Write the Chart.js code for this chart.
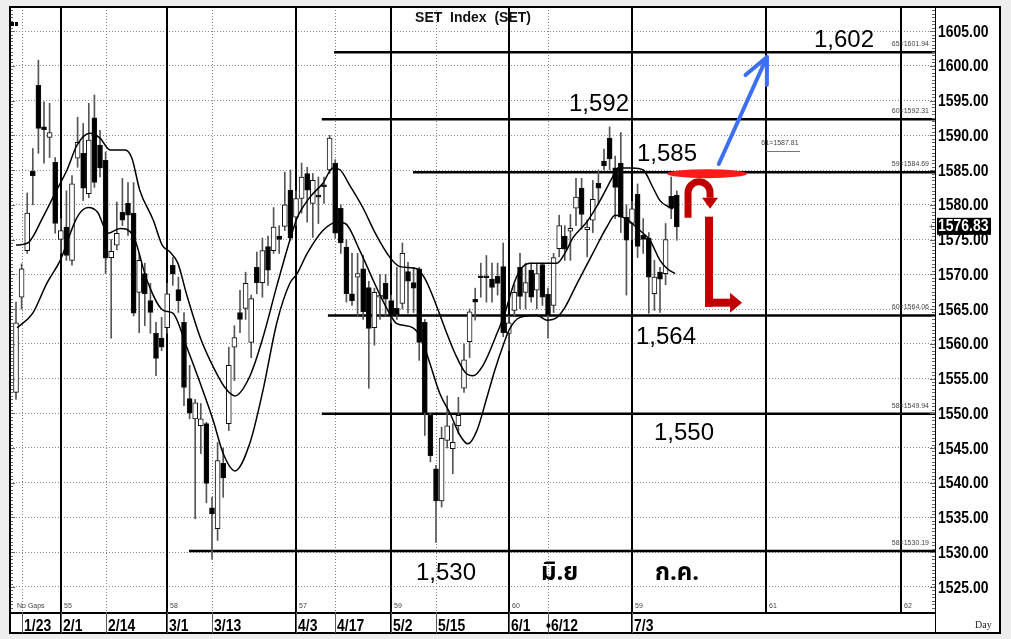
<!DOCTYPE html>
<html>
<head>
<meta charset="utf-8">
<script src="https://cdn.jsdelivr.net/npm/chart.js@4.4.1/dist/chart.umd.min.js"></script>
<style>
  html, body { margin: 0; padding: 0; background: #ffffff; }
  #wrap { width: 1011px; height: 639px; position: relative; }
  canvas { display: block; }
</style>
</head>
<body>
<div id="wrap"><canvas id="c" width="1011" height="639"></canvas></div>
<script>
// ---------------- DATA ----------------
// One candle per trading day, index 0 = 20 Jan.
const openV = [1553,1566.7,1573.4,1584.8,1597.2,1591.2,1589.7,1586.1,1575,1576.8,
1572,1586.7,1587.4,1581.6,1592.5,1588.6,1586.4,1572.4,1574.2,1578.9,
1580.2,1578.8,1567.4,1570.1,1566.2,1561.5,1560.8,1562.3,1571.3,1567.8,
1563.1,1552.1,1549.2,1548.2,1548.5,1536.4,1533.4,1542.8,1548.5,1559.5,
1564.5,1565.1,1560.2,1571,1568.8,1574,1573.4,1575.5,1576.9,1582.1,
1578.2,1580.9,1584.5,1580.2,1581.3,1582.8,1585,1586,1579.5,1573.9,
1567.2,1569.6,1570.8,1568.1,1562.3,1566.7,1568.7,1566.2,1565.1,1565.8,
1570.4,1568.8,1570.8,1563.1,1549.7,1542,1537.4,1546.1,1544.9,1548.2,
1553.6,1560.3,1566.4,1569.7,1569.7,1569.3,1569.7,1571.1,1561.5,1564.8,
1571,1567.4,1570.6,1567.7,1571.4,1567.1,1565.5,1573.7,1575.5,1576.2,
1579.5,1582.4,1576.4,1577.8,1583.1,1586.3,1589.6,1585.3,1586,1578.2,
1577.3,1581.5,1575.6,1575.2,1567.2,1570.3,1570.1,1581.2,1581.4];
const highV = [1566,1571.5,1581.7,1588.1,1600.8,1594.8,1594.6,1586.8,1578,1582,
1584.2,1592.6,1591.7,1594.6,1595.8,1590.7,1587.6,1575,1580.4,1583.8,
1583.2,1583.2,1573,1571.6,1568.7,1563.1,1563.8,1568.7,1572.4,1569.6,
1564.5,1556.9,1552,1551.4,1548.7,1537.9,1545.8,1545,1559.5,1562.6,
1567.7,1570.3,1567,1573.2,1575.2,1575.5,1579.6,1577,1584.7,1585,
1582,1586,1585.4,1584.5,1584,1584,1590,1586.5,1580,1575,
1573,1573,1572.7,1569,1568,1570,1570,1567,1571,1574.5,
1571.7,1571,1571,1563.5,1550,1542.5,1548,1552.5,1548.5,1552.3,
1560,1565,1568,1571.6,1572.7,1571.6,1571.6,1574.5,1564,1568.5,
1573,1571.6,1571.6,1571.6,1571.6,1568,1573,1578.5,1577,1578.6,
1583.8,1583.8,1577.8,1583.5,1585,1588,1591.2,1587,1590.4,1580,
1580.5,1583,1578,1576,1572,1571,1577.3,1584,1582];
const lowV = [1552,1565,1573,1580,1587.4,1586,1586.8,1575.9,1573,1572,
1571.3,1585.4,1580.6,1581,1582.5,1584,1570.1,1560.8,1573.5,1577,
1575.6,1564,1561.6,1562.6,1561.5,1555.4,1559,1561.5,1568.4,1564.5,
1551.1,1549.2,1534.8,1544.2,1537.1,1529,1531.7,1537.9,1547.5,1554.7,
1561.6,1563.5,1558,1567.2,1566.7,1568.4,1573,1573,1576.3,1574.9,
1577,1578.8,1577.5,1575.3,1577.3,1580.2,1584.5,1575.2,1573,1566,
1565.5,1564,1563.5,1553.6,1559.8,1563.5,1564,1563,1563.5,1565,
1564.4,1564.5,1557.6,1546.8,1543,1531.4,1536.5,1545,1541.3,1547,
1553,1558,1563.4,1566.7,1566,1566,1567,1561,1559,1564,
1565,1565,1566,1565,1565.5,1560.8,1564.5,1572.5,1572,1572,
1577,1576.5,1572.5,1576,1580,1585,1585,1578,1576,1567,
1575,1572.4,1573,1564.4,1564.8,1564.5,1568.5,1578,1574.9];
const closeV = [1563,1570.8,1578.8,1584.2,1591,1590.8,1590.4,1577.3,1576.3,1572.7,
1583,1589,1582.4,1589.3,1583.2,1585.3,1572.3,1573.3,1575.9,1577.8,
1578.5,1564.4,1572,1567.2,1564.5,1557.9,1559.5,1567.2,1570,1566.2,
1553.7,1550,1551.5,1549.2,1539.9,1535.5,1543.2,1540.7,1556.9,1560.9,
1563.5,1568.7,1566.5,1568.8,1573.4,1570.6,1576.8,1575,1580,1575.2,
1580.9,1584,1582.1,1583.5,1581.1,1582.6,1589.6,1575.9,1574.5,1567.2,
1566.2,1570.1,1564.6,1562.2,1567.4,1566.9,1566.4,1564.1,1564.2,1573,
1569,1568,1560.2,1550.1,1543.9,1537.4,1546.4,1548.2,1545.8,1549.7,
1557.7,1564.6,1566,1569.5,1569.5,1568.1,1568.7,1561.6,1563,1567.4,
1566.8,1568.8,1566.7,1570.1,1566.7,1564.1,1572.4,1577,1573.6,1576.6,
1581.1,1578.6,1576.8,1580.8,1582.4,1585.6,1586.6,1582.5,1578.2,1574.9,
1579.4,1574,1575,1569.6,1569.6,1569.3,1575,1579.5,1576.83];

// Two averaging curves, read as (candle index, value) points
const upperIdx = [0,2.1,4.8,7,9.1,10.9,13.2,15,16.8,19.5,20.7,22.1,24.5,26.1,27.5,28.9,30.5,32.9,35.2,37.3,39.1,41.8,44.1,46.6,48.9,50.2,52.5,54.8,56.6,57.9,59.6,62,64.1,66.8,68.6,71.6,73,74.5,76.6,78.4,80.2,81.6,83.4,85.9,87.3,88.8,90,91.8,96.6,98,99.5,102,104.3,106.4,107.5,110,112,113.6,115,116.3,117.3];
const upperVal = [1574.2,1574.5,1578.2,1581.7,1585,1588.6,1590.3,1589.6,1587.9,1587.9,1586.7,1582.1,1577.8,1574.2,1573.2,1571.6,1567,1560.9,1556.7,1553.7,1552.5,1555.4,1560.9,1568.4,1574.9,1578.1,1581.1,1583.1,1585.3,1585,1582.8,1579.5,1576,1572.4,1571.1,1570.8,1569.4,1566.7,1562.2,1558.6,1555.9,1555.4,1556.9,1561.5,1564.4,1568.4,1570.6,1571.6,1571.6,1573,1575.3,1577.6,1580.6,1583.8,1585.3,1585.3,1585,1582.7,1580.6,1579.8,1579.4];
const lowerIdx = [0.2,3,5.5,7.9,10.9,12.9,14.6,16.4,18.6,20.9,23.4,26.3,28,30.5,32.9,35.2,37,39.1,41.8,44.1,46.6,48.9,50.2,52,54.8,57.3,58.8,61.4,63.8,65.5,67.1,68,70.9,72.5,73.9,75.7,77.5,79.3,80.7,82.3,84.1,85.5,87,88.2,90,93,94.8,96.6,98,100.2,103,105.5,107,109.1,111.4,113.2,115,116.3,117.7];
const lowerVal = [1562.3,1564.4,1568.7,1572,1578.2,1579.6,1578.9,1575.9,1576.6,1575.6,1569.1,1564.8,1564.4,1559.5,1554.3,1549,1544.2,1541.7,1545.8,1553.3,1563.1,1568.7,1570.1,1573,1576.3,1577.5,1577.3,1573.4,1569.1,1566.2,1563.8,1562.9,1562.3,1560.5,1557.2,1552.8,1550,1546.8,1545.6,1547.5,1552.3,1556.2,1559.8,1562.2,1563.8,1564.1,1563.4,1563.8,1565.2,1568.7,1573,1576.8,1578.5,1577.9,1576.3,1574.9,1572,1570.8,1570.1];

// Support / resistance levels (value, starting candle index, tag)
const levelValues = [1601.94, 1592.31, 1584.69, 1564.06, 1549.94, 1530.19];
const levelStart  = [56.8, 54.6, 70.9, 55.7, 54.6, 30.9];
const levelTags   = ['65=1601.94','60=1592.31','59=1584.69','60=1564.06','58=1549.94','58=1530.19'];
const levelLabels = ['1,602','1,592','1,585','1,564','1,550','1,530'];
const shortLevel = 1587.81, shortLevelTag = '61=1587.81';
const lastPrice = 1576.83;

// Axis ticks
const yTicks = [1525,1530,1535,1540,1545,1550,1555,1560,1565,1570,1575,1580,1585,1590,1595,1600,1605];
const dateTickIdx   = [1, 8, 16, 27, 35, 50, 57, 67, 75, 88, 95, 110];
const dateTickLabel = ['1/23','2/1','2/14','3/1','3/13','4/3','4/17','5/2','5/15','6/1','\u20226/12','7/3'];
const monthLineIdx  = [8, 27, 50, 67, 88, 110, 134, 158];
const monthLineTag  = ['55','58','57','59','60','59','61','62'];
const weekLineIdx   = [1, 16, 35, 57, 75, 95];
const thaiMonths = ['มิ.ย', 'ก.ค.'];

// ---------------- CHART ----------------
const X_MIN = -1.0714, X_MAX = 164.107;
const Y_MIN = 1521.4, Y_MAX = 1608.46;
const idx = closeV.map((_, i) => i);
const wickData = idx.map(i => ({x: i, y: [lowV[i], highV[i]]}));
const bodyData = idx.map(i => ({x: i, y: [Math.min(openV[i], closeV[i]), Math.max(openV[i], closeV[i])]}));
const bodyFill = idx.map(i => closeV[i] >= openV[i] ? '#ffffff' : '#000000');

const SANS = "'Liberation Sans',Arial,sans-serif";
const THAI = "'Noto Sans Thai','Noto Sans','DejaVu Sans','Liberation Sans',sans-serif";
const CONDENSE = 0.82;

function condensedText(ctx, text, x, y) {
  ctx.save();
  ctx.translate(x, y);
  ctx.scale(CONDENSE, 1);
  ctx.fillText(text, 0, 0);
  ctx.restore();
}

const levelSets = levelValues.map((v, k) => ({
  type: 'line',
  data: [{x: levelStart[k], y: v}, {x: X_MAX, y: v}],
  borderColor: '#000', borderWidth: 2.5, pointRadius: 0, order: 6
}));

const frame = {
  id: 'frame',
  beforeDraw(chart) {
    const ctx = chart.ctx;
    ctx.save();
    ctx.fillStyle = '#eeeeee';
    ctx.fillRect(0, 0, 1011, 639);
    ctx.fillStyle = '#ffffff';
    ctx.fillRect(9, 7, 991, 626);
    ctx.restore();
  },
  beforeDatasetsDraw(chart) {
    const ctx = chart.ctx, xs = chart.scales.x, ys = chart.scales.y;
    const a = chart.chartArea;
    ctx.save();
    ctx.strokeStyle = '#808080'; ctx.lineWidth = 1; ctx.setLineDash([1, 2]);
    weekLineIdx.forEach(i => {
      const x = Math.round(xs.getPixelForValue(i)) + 0.5;
      ctx.beginPath(); ctx.moveTo(x, a.top); ctx.lineTo(x, a.bottom); ctx.stroke();
    });
    ctx.setLineDash([]);
    ctx.strokeStyle = '#000'; ctx.lineWidth = 2;
    monthLineIdx.forEach((i, k) => {
      const x = Math.round(xs.getPixelForValue(i));
      const yb = k < 6 ? 633 : a.bottom;
      ctx.beginPath(); ctx.moveTo(x, a.top); ctx.lineTo(x, yb); ctx.stroke();
    });
    ctx.strokeStyle = '#777'; ctx.lineWidth = 1;
    const ys61 = Math.round(ys.getPixelForValue(shortLevel)) + 0.5;
    ctx.beginPath(); ctx.moveTo(xs.getPixelForValue(134), ys61); ctx.lineTo(xs.getPixelForValue(140), ys61); ctx.stroke();
    ctx.restore();
  },
  afterDraw(chart) {
    const ctx = chart.ctx, xs = chart.scales.x, ys = chart.scales.y;
    const a = chart.chartArea;
    const X = v => xs.getPixelForValue(v), Y = v => ys.getPixelForValue(v);
    ctx.save();
    // ruler ticks left and right
    ctx.strokeStyle = '#666'; ctx.lineWidth = 1;
    for (let v = 1522; v <= 1608; v += 0.5) {
      const y = Math.round(Y(v)) + 0.5;
      const len = (v % 5 === 0) ? 5 : 3;
      ctx.beginPath(); ctx.moveTo(a.left, y); ctx.lineTo(a.left + len, y); ctx.stroke();
      ctx.beginPath(); ctx.moveTo(a.right - len, y); ctx.lineTo(a.right, y); ctx.stroke();
    }
    // y-axis labels (condensed bold)
    ctx.fillStyle = '#000'; ctx.font = 'bold 17px ' + SANS;
    ctx.textAlign = 'left'; ctx.textBaseline = 'middle';
    yTicks.forEach(v => condensedText(ctx, v.toFixed(2), a.right + 3, Y(v) + 1));
    // frame
    ctx.strokeStyle = '#000'; ctx.lineWidth = 2;
    ctx.strokeRect(10, 7, 990, 626);
    ctx.lineWidth = 1;
    ctx.beginPath(); ctx.moveTo(a.right + 0.5, a.top); ctx.lineTo(a.right + 0.5, 633); ctx.stroke();
    // label band
    ctx.lineWidth = 2;
    ctx.beginPath(); ctx.moveTo(a.left, a.bottom + 1); ctx.lineTo(a.right, a.bottom + 1); ctx.stroke();
    ctx.lineWidth = 1; ctx.strokeStyle = '#555';
    dateTickIdx.forEach(i => {
      const x = Math.round(X(i)) + 0.5;
      ctx.beginPath(); ctx.moveTo(x, a.bottom); ctx.lineTo(x, 633); ctx.stroke();
    });
    ctx.fillStyle = '#000';
    ctx.font = 'bold 17px ' + SANS;
    ctx.textBaseline = 'alphabetic'; ctx.textAlign = 'left';
    dateTickIdx.forEach((i, k) => {
      const lbl = dateTickLabel[k];
      const off = lbl.charAt(0) === '\u2022' ? -2 : 2;
      condensedText(ctx, lbl, Math.round(X(i)) + off, 631);
    });
    // tiny texts
    ctx.font = '7px ' + SANS; ctx.fillStyle = '#444';
    ctx.fillText('No Gaps', 17, 608);
    monthLineIdx.forEach((i, k) => ctx.fillText(monthLineTag[k], Math.round(X(i)) + 3, 608));
    ctx.textAlign = 'right'; ctx.textBaseline = 'middle';
    levelValues.forEach((v, k) => ctx.fillText(levelTags[k], 929, Y(v) - 8));
    ctx.textAlign = 'left';
    ctx.fillText(shortLevelTag, X(133.1), Y(shortLevel) - 7);
    ctx.font = '10px ' + "'Liberation Serif',serif"; ctx.fillStyle = '#222';
    ctx.fillText('Day', 975, 625);
    ctx.fillStyle = '#000'; ctx.fillRect(11, 22, 3, 4); ctx.fillRect(15, 22, 3, 4);
    // title
    ctx.font = 'bold 14px ' + SANS; ctx.textAlign = 'center'; ctx.textBaseline = 'middle';
    ctx.fillStyle = '#111';
    ctx.fillText('SET  Index  (SET)', 473, 18);
    // level value labels
    ctx.font = '24px ' + SANS; ctx.fillStyle = '#000'; ctx.textAlign = 'left'; ctx.textBaseline = 'alphabetic';
    const lblPos = [[814, -5], [569, -8], [637, -11], [636, 28], [654, 26], [416, 29]];
    levelValues.forEach((v, k) => ctx.fillText(levelLabels[k], lblPos[k][0], Y(v) + lblPos[k][1]));
    ctx.font = 'bold 24px ' + THAI;
    ctx.fillText(thaiMonths[0], 541, Y(1530.19) + 29);
    ctx.fillText(thaiMonths[1], 655, Y(1530.19) + 29);
    // last price box
    const yp = Y(lastPrice);
    ctx.fillStyle = '#000';
    ctx.fillRect(937, yp - 9, 54, 17);
    ctx.fillStyle = '#fff'; ctx.font = 'bold 17px ' + SANS; ctx.textBaseline = 'middle';
    condensedText(ctx, lastPrice.toFixed(2), 938, yp);
    ctx.fillStyle = '#333'; ctx.font = '8px ' + SANS;
    ctx.fillText('+', 929, yp);
    // red ellipse at breakout level
    const ex = X(123.4), ey = Y(1584.69) + 1.5;
    ctx.fillStyle = '#ff1a1a';
    ctx.beginPath(); ctx.ellipse(ex, ey, 40, 4.5, 0, 0, Math.PI * 2); ctx.fill();
    // blue arrow
    const sx = X(125.5), sy = Y(1585.87), tx = X(134.1), ty = Y(1601.26);
    ctx.strokeStyle = '#3d6ff2'; ctx.lineWidth = 4; ctx.lineCap = 'round';
    ctx.beginPath(); ctx.moveTo(sx, sy); ctx.lineTo(tx, ty); ctx.stroke();
    const ang = Math.atan2(sy - ty, sx - tx);
    [-0.42, 0.45].forEach(d => {
      ctx.beginPath(); ctx.moveTo(tx, ty);
      ctx.lineTo(tx + 28 * Math.cos(ang + d), ty + 28 * Math.sin(ang + d)); ctx.stroke();
    });
    // dark red U-turn arrow
    const ux = ex - 19, uy = ey;
    ctx.strokeStyle = '#c00000'; ctx.fillStyle = '#c00000'; ctx.lineWidth = 7; ctx.lineCap = 'butt';
    ctx.beginPath();
    ctx.moveTo(ux, uy + 44); ctx.lineTo(ux, uy + 19);
    ctx.arc(ux + 11, uy + 19, 11, Math.PI, 0, false);
    ctx.lineTo(ux + 22, uy + 24);
    ctx.stroke();
    ctx.beginPath(); ctx.moveTo(ux + 14, uy + 24); ctx.lineTo(ux + 30, uy + 24); ctx.lineTo(ux + 22, uy + 35); ctx.closePath(); ctx.fill();
    // dark red L arrow
    const lx = ex - 1, ly = uy + 43;
    ctx.fillRect(lx - 1, ly, 8, 90);
    ctx.fillRect(lx - 1, ly + 82, 27, 8);
    ctx.beginPath(); ctx.moveTo(lx + 24, ly + 76); ctx.lineTo(lx + 24, ly + 96); ctx.lineTo(lx + 36, ly + 86); ctx.closePath(); ctx.fill();
    ctx.restore();
  }
};

new Chart(document.getElementById('c'), {
  type: 'bar',
  data: {
    datasets: [
      ...levelSets,
      { type: 'bar', data: wickData, backgroundColor: '#555555', barThickness: 1, grouped: false, order: 4 },
      { type: 'bar', data: bodyData, backgroundColor: bodyFill, borderColor: '#111', borderWidth: 1,
        borderSkipped: false, barThickness: 5, minBarLength: 2, grouped: false, order: 3 },
      { type: 'line', data: upperIdx.map((x, k) => ({x, y: upperVal[k]})), borderColor: '#000', borderWidth: 1.5,
        pointRadius: 0, cubicInterpolationMode: 'monotone', order: 1 },
      { type: 'line', data: lowerIdx.map((x, k) => ({x, y: lowerVal[k]})), borderColor: '#000', borderWidth: 1.5,
        pointRadius: 0, cubicInterpolationMode: 'monotone', order: 1 }
    ]
  },
  options: {
    responsive: false, animation: false, events: [],
    layout: { padding: { left: 10, top: 7, right: 0, bottom: 27 } },
    plugins: { legend: { display: false }, tooltip: { enabled: false } },
    scales: {
      x: { type: 'linear', min: X_MIN, max: X_MAX, display: false, offset: false },
      y: {
        position: 'right', min: Y_MIN, max: Y_MAX,
        afterBuildTicks: s => { s.ticks = yTicks.map(v => ({value: v})); },
        afterFit: s => { s.width = 76; },
        grid: { color: '#8c8c8c', lineWidth: 1, drawTicks: false },
        border: { display: false, dash: [1, 2] },
        ticks: { display: false }
      }
    }
  },
  plugins: [frame]
});
</script>
</body>
</html>
